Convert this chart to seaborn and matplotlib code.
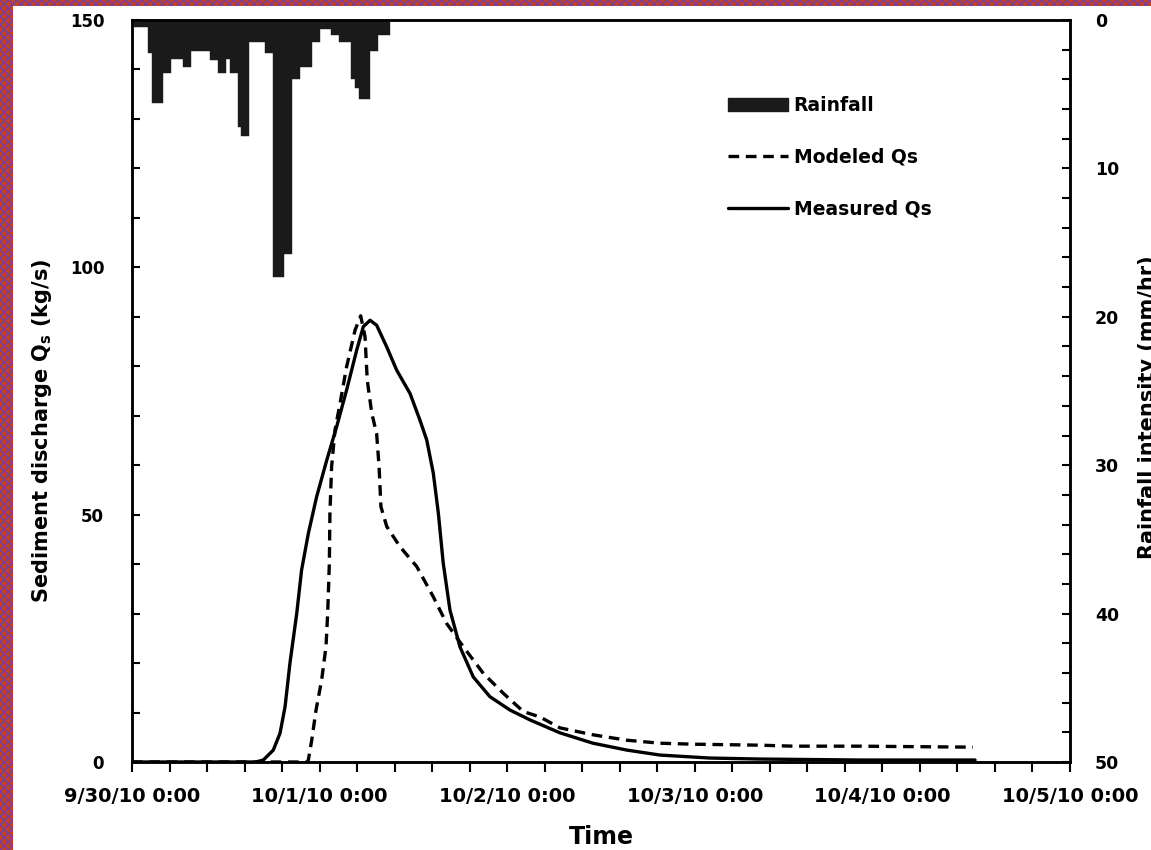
import numpy as np
import pandas as pd
import matplotlib
matplotlib.use("Agg")
import matplotlib.pyplot as plt
import seaborn as sns
from matplotlib.patches import Rectangle, Patch
from matplotlib.lines import Line2D
from matplotlib.ticker import MultipleLocator, FixedLocator, FixedFormatter

# ---------------- data ----------------
# time in days since 9/30/10 0:00
meas_days = [0.0, 0.66, 0.700, 0.753, 0.789, 0.816, 0.842, 0.878, 0.904, 0.940, 0.984,
             1.038, 1.091, 1.144, 1.198, 1.233, 1.269, 1.304, 1.358, 1.411, 1.482,
             1.535, 1.571, 1.606, 1.633, 1.659, 1.695, 1.748, 1.819, 1.908, 2.015,
             2.122, 2.281, 2.457, 2.639, 2.815, 3.081, 3.348, 3.881, 4.494]
meas_qs = [0.0, 0.0, 0.4, 2.4, 5.8, 11.2, 20.0, 30.0, 38.8, 46.2, 53.6,
           61.0, 67.8, 75.2, 83.3, 88.0, 89.3, 88.3, 83.9, 79.2, 74.5,
           69.1, 65.1, 58.4, 50.3, 40.2, 30.7, 23.3, 17.2, 13.2, 10.5,
           8.5, 5.9, 3.8, 2.4, 1.4, 0.8, 0.6, 0.4, 0.4]

mod_days = [0.0, 0.935, 0.940, 0.958, 0.981, 1.011, 1.034, 1.043, 1.052, 1.055, 1.064,
            1.082, 1.109, 1.144, 1.189, 1.219, 1.242, 1.254, 1.278, 1.304, 1.317,
            1.327, 1.358, 1.429, 1.518, 1.606, 1.677, 1.766, 1.873, 1.979, 2.086,
            2.175, 2.281, 2.457, 2.639, 2.815, 2.990, 3.348, 3.523, 3.881, 4.483]
mod_qs = [0.0, 0.0, 0.4, 4.4, 10.5, 16.6, 23.3, 30.0, 40.2, 50.3, 59.7,
          67.1, 72.5, 79.9, 87.3, 90.2, 86.0, 77.2, 70.5, 66.4, 59.7,
          51.6, 47.6, 43.5, 39.5, 33.4, 28.0, 23.3, 17.9, 13.9, 10.2,
          9.1, 6.9, 5.5, 4.4, 3.8, 3.6, 3.4, 3.2, 3.2, 3.0]

# rainfall intensity (mm/hr), half-hourly from 9/30/10 0:00
rain_hours = [0.5 * k for k in range(66)]
rain_mmhr = [0.5, 0.5, 0.5, 0.5, 2.2, 5.6, 5.6, 5.6, 3.6, 3.6,
             2.6, 2.6, 2.6, 3.2, 3.2, 2.1, 2.1, 2.1, 2.1, 2.1,
             2.7, 2.7, 3.6, 3.6, 2.6, 3.6, 3.6, 7.2, 7.8, 7.8,
             1.5, 1.5, 1.5, 1.5, 2.2, 2.2, 17.3, 17.3, 17.3, 15.8,
             15.8, 4.0, 4.0, 3.2, 3.2, 3.2, 1.5, 1.5, 0.6, 0.6,
             0.6, 1.0, 1.0, 1.5, 1.5, 1.5, 4.0, 4.6, 5.3, 5.3,
             5.3, 2.1, 2.1, 1.0, 1.0, 1.0]

x_tick_days = [0, 1, 2, 3, 4, 5]
x_tick_labels = ["9/30/10 0:00", "10/1/10 0:00", "10/2/10 0:00",
                 "10/3/10 0:00", "10/4/10 0:00", "10/5/10 0:00"]

meas_df = pd.DataFrame({"day": meas_days, "qs": meas_qs})
mod_df = pd.DataFrame({"day": mod_days, "qs": mod_qs})
rain_days = [h / 24.0 for h in rain_hours]

# ---------------- style ----------------
sns.set_style("white")
plt.rcParams["font.family"] = ["DejaVu Sans"]
plt.rcParams["hatch.linewidth"] = 1.2
for key in ["text.color", "axes.labelcolor", "xtick.color", "ytick.color"]:
    plt.rcParams[key] = "black"

W, H = 1151, 850
fig = plt.figure(figsize=(W / 100, H / 100), dpi=100, facecolor="white")
L, R, T, B = 132, 1070, 20, 762
ax = fig.add_axes([L / W, 1 - B / H, (R - L) / W, (B - T) / H])
ax.set_facecolor("white")

# lines
sns.lineplot(data=mod_df, x="day", y="qs", ax=ax, color="black", linewidth=2.4,
             linestyle=(0, (3.2, 2.0)), estimator=None, sort=False)
sns.lineplot(data=meas_df, x="day", y="qs", ax=ax, color="black", linewidth=2.4,
             estimator=None, sort=False)

ax.set_xlim(0, 5)
ax.set_ylim(0, 150)
ax.yaxis.set_major_locator(FixedLocator([0, 50, 100, 150]))
ax.yaxis.set_minor_locator(MultipleLocator(10))
ax.xaxis.set_major_locator(FixedLocator(x_tick_days))
ax.xaxis.set_major_formatter(FixedFormatter(x_tick_labels))
ax.xaxis.set_minor_locator(MultipleLocator(0.2))
ax.tick_params(axis="y", which="both", direction="in", length=6, width=1.5,
               left=True, pad=20, labelsize=12, colors="black")
ax.tick_params(axis="x", which="both", direction="out", length=7, width=1.5,
               bottom=True, pad=11, labelsize=14, colors="black")
for lab in ax.get_xticklabels() + ax.get_yticklabels():
    lab.set_fontweight("bold")
for sp in ax.spines.values():
    sp.set_linewidth(1.8)
    sp.set_color("black")

ax.set_xlabel("Time", fontsize=17, fontweight="bold", labelpad=14, color="black")
ax.set_ylabel(r"Sediment discharge Q$_\mathregular{s}$ (kg/s)", fontsize=15,
              fontweight="bold", labelpad=12, color="black")
ax.yaxis.set_label_coords(-0.083, 0.447)

# rainfall on twin axis (inverted)
ax2 = ax.twinx()
ax2.bar(rain_days, rain_mmhr, width=1 / 48, align="edge", color="#1a1a1a",
        edgecolor="#1a1a1a", linewidth=0.3)
ax2.set_ylim(50, 0)
ax2.set_xlim(0, 5)
ax2.yaxis.set_major_locator(FixedLocator([0, 10, 20, 30, 40, 50]))
ax2.yaxis.set_minor_locator(MultipleLocator(2))
ax2.tick_params(axis="y", which="both", direction="in", length=6, width=1.5,
                right=True, pad=18, labelsize=12.5, colors="black")
for lab in ax2.get_yticklabels():
    lab.set_fontweight("bold")
for sp in ax2.spines.values():
    sp.set_linewidth(1.8)
    sp.set_color("black")
ax2.set_ylabel("Rainfall intensity (mm/hr)", fontsize=15, fontweight="bold",
               labelpad=16, rotation=90, color="black")
ax2.yaxis.set_label_coords(1.0725, 0.478)

# legend
handles = [Patch(facecolor="#1a1a1a", edgecolor="#1a1a1a"),
           Line2D([], [], color="black", linewidth=2.4, linestyle=(0, (3.2, 2.0))),
           Line2D([], [], color="black", linewidth=2.4)]
labels = ["Rainfall", "Modeled Qs", "Measured Qs"]
leg = ax2.legend(handles, labels, loc="upper left", bbox_to_anchor=(728 / W, 1 - 96 / H),
                 bbox_transform=fig.transFigure, frameon=False, borderpad=0,
                 borderaxespad=0, handlelength=3.2, handletextpad=0.3,
                 labelspacing=1.75, prop={"size": 13.5, "weight": "bold"})
for t in leg.get_texts():
    t.set_color("black")

# decorative border strips (left and top)
fig.patches.append(Rectangle((0, 0), 13 / W, 1, transform=fig.transFigure,
                             facecolor="#c8401c", edgecolor="#7a3fa0", hatch="xxxx",
                             linewidth=0, zorder=10))
fig.patches.append(Rectangle((0, 1 - 6 / H), 1, 6 / H, transform=fig.transFigure,
                             facecolor="#c8401c", edgecolor="#7a3fa0", hatch="xxxx",
                             linewidth=0, zorder=10))

fig.savefig("out.png", dpi=100, facecolor="white")
